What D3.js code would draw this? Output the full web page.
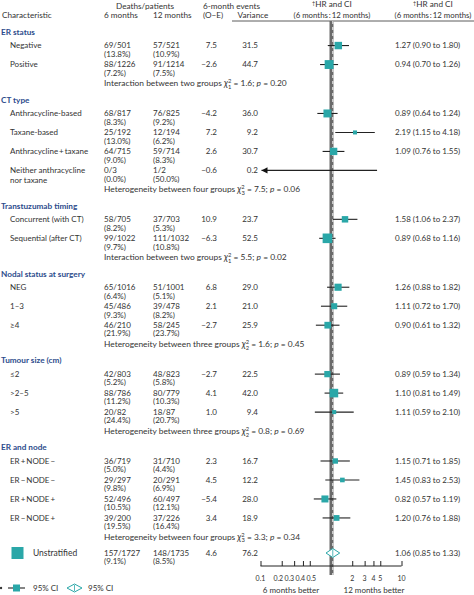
<!DOCTYPE html>
<html><head><meta charset="utf-8">
<script src="https://cdn.jsdelivr.net/npm/d3@7"></script>
<style>body{margin:0;background:#fff} text{font-family:Lato,"Open Sans",sans-serif;fill:#333;}</style>
</head><body><svg id="c" width="474" height="595"></svg>
<script>
// ---------------- data ----------------
const groups = ["ER status","CT type","Transtuzumab timing","Nodal status at surgery","Tumour size (cm)","ER and node"];
const labels = ["Negative","Positive",
  "Anthracycline-based","Taxane-based","Anthracycline\u2009+\u2009taxane","Neither anthracycline\nnor taxane",
  "Concurrent (with CT)","Sequential (after CT)",
  "NEG","1\u20133","\u22654",
  "\u22642","\u003e2\u20135","\u003e5",
  "ER\u2009+\u2009NODE\u2009\u2212","ER\u2009\u2212\u2009NODE\u2009\u2212","ER\u2009+\u2009NODE\u2009+","ER\u2009\u2212\u2009NODE\u2009+",
  "Unstratified"];
const groupIdx = [0,0,1,1,1,1,2,2,3,3,3,4,4,4,5,5,5,5,-1];
const deaths6   = [69,88,68,25,64,0,58,99,65,45,46,42,88,20,36,29,52,39,157];
const patients6 = [501,1226,817,192,715,3,705,1022,1016,486,210,803,786,82,719,297,496,200,1727];
const pct6      = [13.8,7.2,8.3,13.0,9.0,0.0,8.2,9.7,6.4,9.3,21.9,5.2,11.2,24.4,5.0,9.8,10.5,19.5,9.1];
const deaths12   = [57,91,76,12,59,1,37,111,51,39,58,48,80,18,31,20,60,37,148];
const patients12 = [521,1214,825,194,714,2,703,1032,1001,478,245,823,779,87,710,291,497,226,1735];
const pct12      = [10.9,7.5,9.2,6.2,8.3,50.0,5.3,10.8,5.1,8.2,23.7,5.8,10.3,20.7,4.4,6.9,12.1,16.4,8.5];
const oe       = [7.5,-2.6,-4.2,7.2,2.6,-0.6,10.9,-6.3,6.8,2.1,-2.7,-2.7,4.1,1.0,2.3,4.5,-5.4,3.4,4.6];
const variance = [31.5,44.7,36.0,9.2,30.7,0.2,23.7,52.5,29.0,21.0,25.9,22.5,42.0,9.4,16.7,12.2,28.0,18.9,76.2];
const hr = [1.27,0.94,0.89,2.19,1.09,null,1.58,0.89,1.26,1.11,0.90,0.89,1.10,1.11,1.15,1.45,0.82,1.20,1.06];
const lo = [0.90,0.70,0.64,1.15,0.76,null,1.06,0.68,0.88,0.72,0.61,0.59,0.81,0.59,0.71,0.83,0.57,0.76,0.85];
const hi = [1.80,1.26,1.24,4.18,1.55,4.5,2.37,1.16,1.82,1.70,1.32,1.34,1.49,2.10,1.85,2.53,1.19,1.88,1.33];
const testNames = ["Interaction between two groups","Heterogeneity between four groups","Interaction between two groups",
  "Heterogeneity between three groups","Heterogeneity between three groups","Heterogeneity between four groups"];
const testDf  = ["1","3","1","2","2","3"];
const testChi = ["1.6","7.5","5.5","1.6","0.8","3.3"];
const testP   = ["0.20","0.06","0.02","0.45","0.69","0.34"];
const axisTicks = [0.1,0.2,0.3,0.4,0.5,2,3,4,5,10];
const axisTickLabels = ["0.1","0.2","0.3","0.4","0.5","2","3","4","5","10"];

// ---------------- layout ----------------
const svg = d3.select("#c");
const teal = "#2aa7a8", blue = "#2c4c8c", fs = 8;
const rows = [];
let u = 0, prev = null;
const gap = (a,b) => {
  if (a===null) return 0;
  if (a==="head") return 13.5;
  if (a==="test" && b==="head") return 16.3;
  if (a==="test" && b==="total") return 16;
  return 18.9;
};
groups.forEach((g,gi)=>{
  u += gap(prev,"head"); rows.push({type:"head",g:gi,u}); prev="head";
  groupIdx.forEach((gg,i)=>{ if(gg===gi){ u += gap(prev,"item"); rows.push({type:"item",i,u}); prev="item"; }});
  u += gap(prev,"test"); rows.push({type:"test",g:gi,u}); prev="test";
});
u += gap(prev,"total"); rows.push({type:"total",i:labels.length-1,u});
const y = d3.scaleLinear().domain([0,u]).range([32,553]);
const x = d3.scaleLog().domain([0.1,10]).range([260.5,401.5]);
const sz = d3.scaleSqrt().domain([0,52.5]).range([0,9.6]);

const txt = (xx,yy,s,anchor="start",opts={}) => {
  const t = svg.append("text").attr("x",xx).attr("y",yy).attr("dy","0.35em")
    .attr("text-anchor",anchor).attr("font-size",opts.size||fs).text(s);
  if(opts.color) t.style("fill",opts.color);
  if(opts.weight) t.attr("font-weight",opts.weight);
  return t;
};

// header
const hs = 8.2;
const hy1 = 6, hy2 = 15.2;
txt(145,hy1,"Deaths/patients","middle",{size:hs});
txt(203,hy1,"6-month events","start",{size:hs});
txt(2,hy2,"Characteristic","start",{size:hs});
txt(104,hy2,"6 months","start",{size:hs});
txt(153,hy2,"12 months","start",{size:hs});
txt(203,hy2,"(O\u2212E)","start",{size:hs});
txt(253,hy2,"Variance","middle",{size:hs});
[332,433].forEach(cx=>{
  const t = txt(cx,hy1+0.5,"","middle",{size:hs});
  t.append("tspan").attr("font-size",5.5).attr("dy",-1.5).text("\u2020");
  t.append("tspan").attr("dy",1.5).text("HR and CI");
  txt(cx,hy2,"(6 months\u2009:\u200912 months)","middle",{size:7.8});
});
svg.append("line").attr("x1",232).attr("x2",474).attr("y1",21).attr("y2",21)
  .attr("stroke","#333").attr("stroke-width",0.8);

// reference line at HR = 1
svg.append("line").attr("x1",x(1)+0.5).attr("x2",x(1)+0.5).attr("y1",21).attr("y2",575)
  .attr("stroke","#6a6a6a").attr("stroke-width",4);
svg.append("line").attr("x1",x(hr[18])).attr("x2",x(hr[18])).attr("y1",21).attr("y2",575)
  .attr("stroke","#fff").attr("stroke-width",0.9).attr("stroke-dasharray","3,3");

// rows
rows.forEach(r=>{
  const yy = y(r.u);
  if(r.type==="head"){
    txt(1,yy,groups[r.g],"start",{color:blue,weight:700,size:8.2});
  } else if(r.type==="test"){
    const t = txt(104,yy,testNames[r.g]+" ","start",{size:8.4});
    t.append("tspan").attr("font-style","italic").attr("font-size",9).text("\u03c7");
    t.append("tspan").attr("font-size",5.8).attr("dy",-3).text("2");
    t.append("tspan").attr("font-size",5.8).attr("dx",-3.3).attr("dy",5.5).text(testDf[r.g]);
    t.append("tspan").attr("dy",-2.5).text(" = "+testChi[r.g]+"; ");
    t.append("tspan").attr("font-style","italic").text("p");
    t.append("tspan").text(" = "+testP[r.g]);
  } else {
    const i = r.i;
    if(r.type==="item"){
      labels[i].split("\n").forEach((s,k)=>txt(10,yy+k*19*0.5*2/2*1,s));
    } else {
      txt(33,yy,labels[i],"start",{size:8.5});
      const s = 12;
      svg.append("rect").attr("x",17.5-s/2).attr("y",yy-s/2).attr("width",s).attr("height",s).attr("fill",teal);
    }
    txt(104,yy,deaths6[i]+"/"+patients6[i]);
    txt(104,yy+8.5,"("+pct6[i].toFixed(1)+"%)");
    txt(153,yy,deaths12[i]+"/"+patients12[i]);
    txt(153,yy+8.5,"("+pct12[i].toFixed(1)+"%)");
    txt(217,yy,(oe[i]<0?"\u2212":"")+Math.abs(oe[i]).toFixed(1),"end");
    txt(258,yy,variance[i].toFixed(1),"end");
    if(hr[i]!==null) txt(395,yy,hr[i].toFixed(2)+" ("+lo[i].toFixed(2)+" to "+hi[i].toFixed(2)+")");
    // marks
    const x0 = lo[i]===null ? x(0.1)+1 : x(lo[i]);
    if(r.type==="item"){
      svg.append("line").attr("x1",x0).attr("x2",x(hi[i])).attr("y1",yy).attr("y2",yy)
        .attr("stroke","#222").attr("stroke-width",1.1);
      if(lo[i]===null){
        svg.append("path").attr("d",`M${x0},${yy} l6,-3.2 l0,6.4 z`).attr("fill","#111");
      }
      if(hr[i]!==null){
        const s = sz(variance[i]);
        svg.append("rect").attr("x",x(hr[i])-s/2).attr("y",yy-s/2).attr("width",s).attr("height",s).attr("fill",teal);
      }
    } else {
      const h = 4.5;
      svg.append("path").attr("d",`M${x(lo[i])},${yy} L${x(hr[i])},${yy-h} L${x(hi[i])},${yy} L${x(hr[i])},${yy+h} Z`)
        .attr("fill","#fff").attr("stroke",teal).attr("stroke-width",1);
      svg.append("line").attr("x1",x(hr[i])).attr("x2",x(hr[i])).attr("y1",yy-h+1).attr("y2",yy+h-1)
        .attr("stroke",teal).attr("stroke-width",0.8);
    }
  }
});

// axis
const axY = 566;
const ax = svg.append("g").attr("transform",`translate(0,${axY})`)
  .call(d3.axisTop(x).tickValues(axisTicks).tickSize(5).tickFormat(""));
ax.select(".domain").attr("stroke","#222").attr("d",`M${x(0.1)},0H${x(10)}`);
ax.selectAll(".tick line").attr("stroke","#222");
// tick labels: centred on ticks, crowded ones on the left pushed apart
const lpos = axisTicks.map(v=>x(v));
const minGap = 11;
const leftIdx = axisTicks.map((v,k)=>k).filter(k=>axisTicks[k]<1);
lpos[leftIdx[leftIdx.length-1]] += 1.5;
for(let j=leftIdx.length-2;j>=1;j--){ const k=leftIdx[j]; lpos[k]=Math.min(lpos[k], lpos[k+1]-minGap); }
axisTicks.forEach((v,k)=>txt(lpos[k],579,axisTickLabels[k],"middle",{size:7}));
txt(291,590,"6 months better","middle");
txt(374,590,"12 months better","middle");

// legend
const ly = 588;
svg.append("circle").attr("cx",1).attr("cy",ly).attr("r",1.2).attr("fill","#333");
svg.append("line").attr("x1",8).attr("x2",25).attr("y1",ly).attr("y2",ly).attr("stroke","#222").attr("stroke-width",1.1);
svg.append("rect").attr("x",13).attr("y",ly-3.5).attr("width",7).attr("height",7).attr("fill",teal);
txt(33,ly,"95% CI");
svg.append("path").attr("d",`M67,${ly} L74.5,${ly-4} L82,${ly} L74.5,${ly+4} Z`).attr("fill","#fff").attr("stroke",teal).attr("stroke-width",1);
svg.append("line").attr("x1",74.5).attr("x2",74.5).attr("y1",ly-3).attr("y2",ly+3).attr("stroke",teal).attr("stroke-width",0.8);
txt(88,ly,"95% CI");
</script></body></html>
